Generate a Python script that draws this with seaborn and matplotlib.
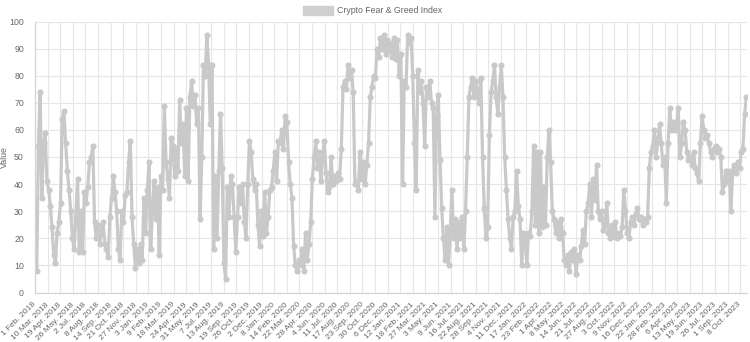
import numpy as np
import pandas as pd
import matplotlib
matplotlib.use("Agg")
import matplotlib.pyplot as plt
from matplotlib.patches import Patch
import seaborn as sns

v2018 = [30, 8, 54, 74, 35, 55, 59, 41, 38, 32, 24, 14, 11, 22, 26, 33, 64, 67, 55, 45,
         38, 30, 20, 16, 28, 42, 15, 30, 15, 37, 33, 39, 48, 50, 54, 26, 20, 25, 18, 22,
         26, 18, 16, 13, 28, 35, 43, 37, 30, 16, 12, 30, 26, 36, 37, 48, 56, 28, 18, 9,
         16, 11, 18, 12, 35, 22, 38]
v2019 = [48, 16, 30, 41, 27, 39, 14, 43, 38, 69, 48, 42, 35, 57, 54, 43, 53, 45, 71, 55,
         62, 43, 68, 41, 72, 78, 69, 73, 62, 68, 27, 50, 84, 80, 95, 84, 62, 84, 16, 43,
         20, 45, 66, 46, 11, 5, 39, 28, 43, 40, 28, 15, 28, 39, 33, 40, 26, 20, 40, 56,
         52, 42, 38, 40, 25, 17, 30, 21, 37, 22, 28, 38, 39]
v2020 = [45, 52, 41, 56, 55, 60, 53, 65, 63, 48, 40, 35, 17, 10, 8, 12, 10, 16, 8, 22,
         12, 18, 26, 42, 50, 56, 46, 52, 41, 49, 56, 44, 37, 39, 50, 40, 43, 41, 44, 42,
         53, 76, 78, 75, 84, 79, 82, 74, 40, 41, 38, 52, 42, 48, 40, 47, 55, 72, 76, 80,
         79, 90, 87, 94, 90, 95, 88, 93, 89, 92, 87, 94, 86]
v2021 = [93, 80, 88, 40, 78, 76, 95, 92, 94, 80, 55, 38, 82, 74, 78, 70, 54, 76, 72, 78,
         70, 68, 28, 65, 73, 49, 31, 20, 12, 24, 10, 22, 38, 20, 27, 16, 26, 20, 28, 16,
         30, 50, 72, 76, 79, 72, 78, 74, 70, 79, 50, 31, 20, 24, 58, 74, 78, 84, 72, 66,
         76, 84, 72, 50, 38, 27, 20, 16, 28, 30, 45, 32, 27]
v2022 = [10, 22, 20, 10, 22, 21, 30, 54, 25, 52, 22, 52, 24, 39, 25, 50, 60, 48, 30, 27,
         22, 26, 20, 27, 22, 12, 10, 14, 8, 15, 12, 16, 7, 14, 12, 17, 23, 18, 30, 33,
         40, 28, 42, 34, 47, 30, 27, 30, 23, 25, 33, 22, 20, 25, 21, 26, 20, 22, 21, 24,
         38, 30, 22, 20, 26, 28, 25, 29, 31, 27, 28, 25, 27]
v2023 = [26, 28, 46, 52, 54, 60, 50, 56, 62, 55, 47, 50, 33, 55, 68, 60, 63, 60, 62, 68,
         50, 55, 63, 60, 52, 49, 50, 47, 52, 46, 44, 41, 55, 65, 60, 57, 58, 55, 52, 50,
         53, 54, 52, 53, 50, 37, 40, 45, 41, 45, 30, 45, 47, 44, 48, 46, 52, 53, 66, 72]

tick_labels = [
    "1 Feb. 2018", "10 Mar. 2018", "19 Apr. 2018", "26 May. 2018", "2 Jul. 2018",
    "8 Aug. 2018", "14 Sep. 2018", "21 Oct. 2018", "27 Nov. 2018", "3 Jan. 2019",
    "9 Feb. 2019", "18 Mar. 2019", "24 Apr. 2019", "31 May. 2019", "7 Jul. 2019",
    "13 Aug. 2019", "19 Sep. 2019", "26 Oct. 2019", "2 Dec. 2019", "8 Jan. 2020",
    "14 Feb. 2020", "22 Mar. 2020", "28 Apr. 2020", "4 Jun. 2020", "11 Jul. 2020",
    "17 Aug. 2020", "23 Sep. 2020", "30 Oct. 2020", "6 Dec. 2020", "12 Jan. 2021",
    "18 Feb. 2021", "27 Mar. 2021", "3 May. 2021", "9 Jun. 2021", "16 Jul. 2021",
    "22 Aug. 2021", "28 Sep. 2021", "4 Nov. 2021", "11 Dec. 2021", "17 Jan. 2022",
    "23 Feb. 2022", "1 Apr. 2022", "8 May. 2022", "14 Jun. 2022", "21 Jul. 2022",
    "27 Aug. 2022", "3 Oct. 2022", "9 Nov. 2022", "16 Dec. 2022", "22 Jan. 2023",
    "28 Feb. 2023", "6 Apr. 2023", "13 May. 2023", "19 Jun. 2023", "26 Jul. 2023",
    "1 Sep. 2023", "8 Oct. 2023",
]
y_ticks = list(range(0, 101, 10))
series_name = "Crypto Fear & Greed Index"

STEP = 5        # days between sampled values
TICK_EVERY = 37  # points between x labels

values = v2018 + v2019 + v2020 + v2021 + v2022 + v2023
df = pd.DataFrame({"day": np.arange(len(values)) * STEP, "value": values})

sns.set_theme(style="white")
plt.rcParams["font.family"] = ["Liberation Sans", "DejaVu Sans"]

W, H = 750, 342
fig = plt.figure(figsize=(W / 100, H / 100), dpi=100)
left, right, top, bottom = 35, 747, 21.5, 292.5
ax = fig.add_axes([left / W, 1 - bottom / H, (right - left) / W, (bottom - top) / H])

line_color = "#c9c9c9"
grid_color = "#e6e6e6"
text_color = "#666666"

sns.lineplot(data=df, x="day", y="value", ax=ax, color=line_color, linewidth=2.3,
             marker="o", markersize=4.4, markeredgewidth=0, legend=False)

ax.set_xlim(0, 2092)
ax.set_ylim(0, 100)
ax.set_yticks(y_ticks)
ax.set_yticklabels([str(t) for t in y_ticks], fontsize=6.3, color=text_color)
ax.set_xticks(np.arange(len(tick_labels)) * TICK_EVERY)
ax.set_xticklabels(tick_labels, rotation=45, ha="right", va="center",
                   rotation_mode="anchor", fontsize=6, color=text_color)
ax.tick_params(axis="x", length=5, width=0.8, color=grid_color, pad=3)
ax.tick_params(axis="y", length=6, width=0.8, color=grid_color, pad=2)
ax.grid(True, color=grid_color, linewidth=0.8)
ax.set_axisbelow(True)
for s in ["top", "right"]:
    ax.spines[s].set_visible(False)
for s in ["left", "bottom"]:
    ax.spines[s].set_color("#d4d4d4")
    ax.spines[s].set_linewidth(0.9)

ax.set_xlabel("")
ax.set_ylabel("Value", fontsize=6.3, color=text_color)
ax.yaxis.set_label_coords(-0.036, 0.5)

handle = Patch(facecolor="#cfcfcf", edgecolor="#cfcfcf")
fig.legend(handles=[handle], labels=[series_name], loc="upper center",
           bbox_to_anchor=(0.497, 1.005), frameon=False, fontsize=6.3,
           handlelength=3.4, handleheight=1.1, handletextpad=0.5,
           labelcolor=text_color)

fig.savefig("out.png", dpi=100)
